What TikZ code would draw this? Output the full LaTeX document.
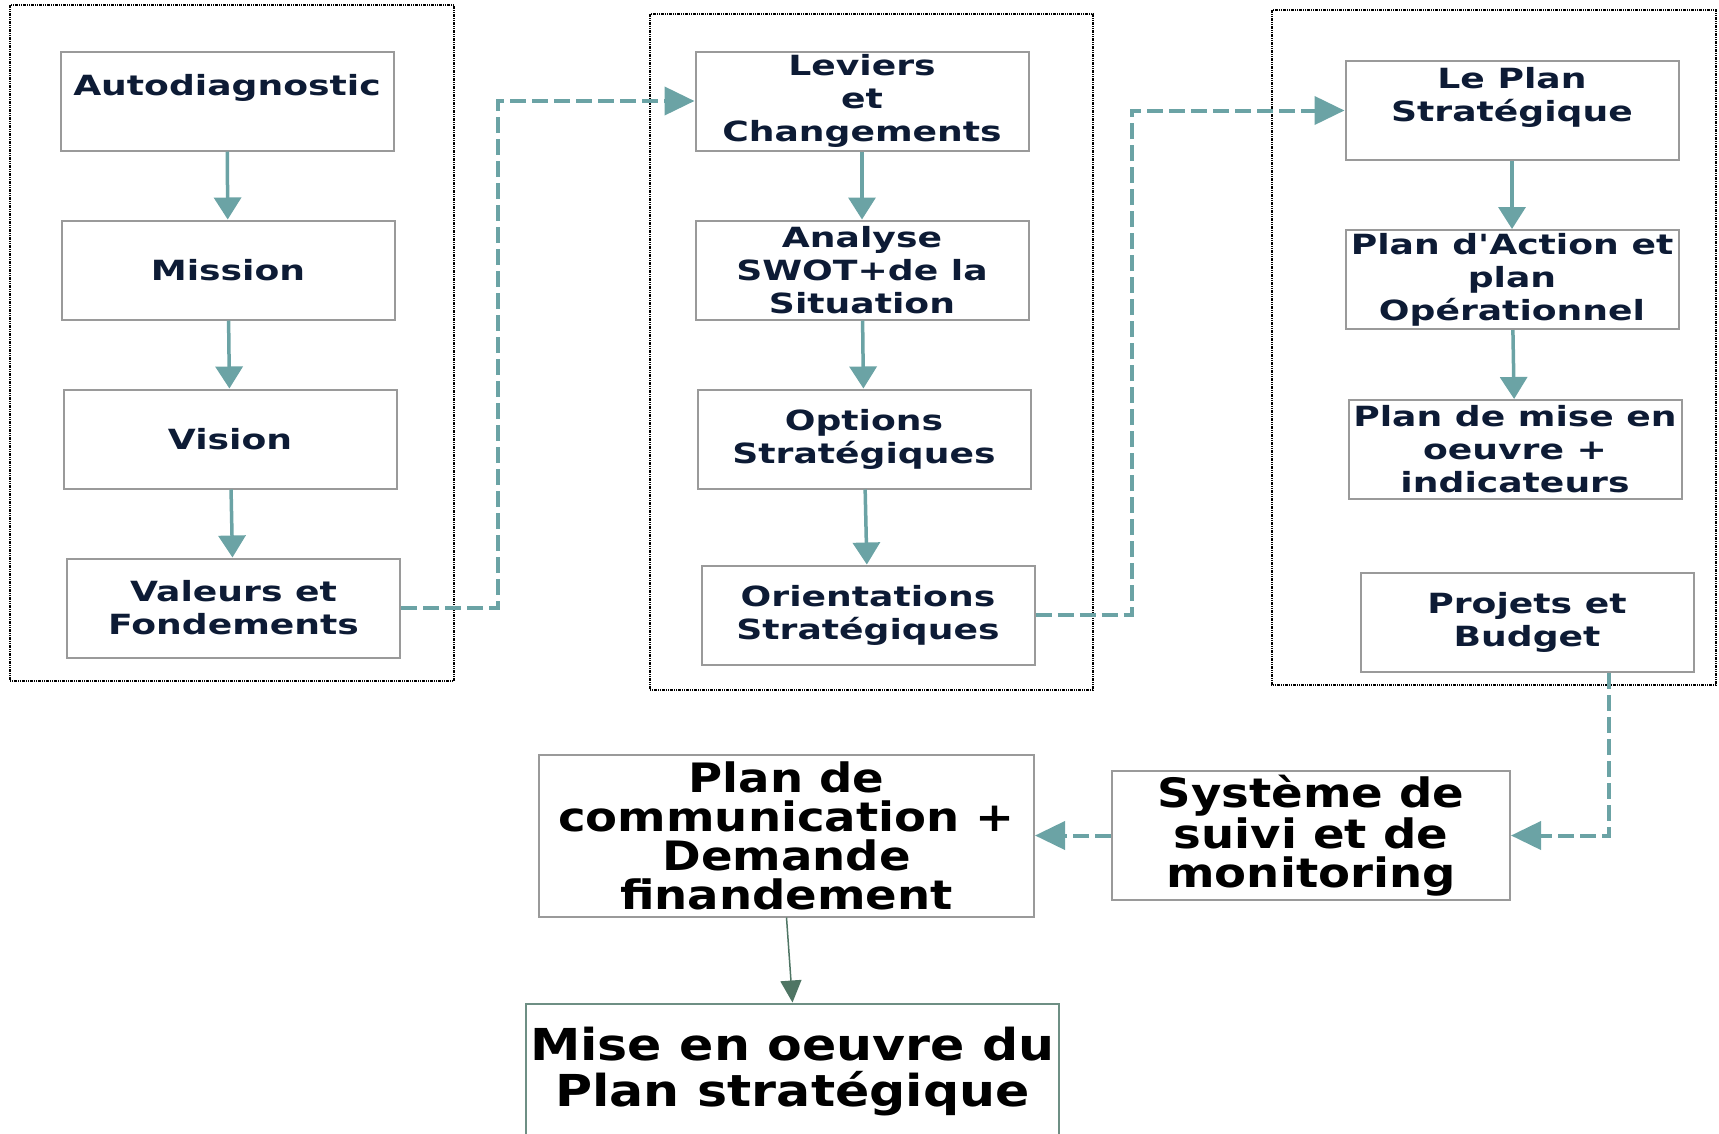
\documentclass[tikz,border=0pt]{standalone}
\usepackage{fontspec}
\usepackage{xcolor}
\usepackage{tikz}
\usetikzlibrary{arrows.meta, positioning}
\newfontfamily\colfont{DejaVu Sans Bold}[FakeStretch=1.3]
\newfontfamily\bigfont{DejaVu Sans Bold}[FakeStretch=1.15]
\definecolor{navy}{HTML}{0D1B35}
\definecolor{tealline}{HTML}{6BA3A5}
\definecolor{boxgray}{HTML}{9A9A9A}
\definecolor{darkgreen}{HTML}{4F7564}
\definecolor{greenedge}{HTML}{6E8F84}

\begin{document}
\begin{tikzpicture}[
    x=1pt, y=-1pt,
    node distance=68pt and 76pt,
    box/.style={rectangle, draw=boxgray, line width=2pt, fill=white, text=navy, align=center, inner sep=0pt, minimum width=333pt, minimum height=99pt, font=\colfont\fontsize{27.8}{33}\selectfont},
    bigbox/.style={box, text=black, font=\bigfont\fontsize{40.5}{39}\selectfont},
    frame/.style={draw=black, line width=1.2pt, dash pattern=on 3pt off 1pt on 1pt off 1pt on 1pt off 1pt},
    flow/.style={-{Triangle[width=27pt,length=22pt]}, line width=3.5pt, draw=tealline},
    link/.style={flow, line width=4pt, dash pattern=on 16pt off 6pt, -{Triangle[width=28pt,length=30pt]}},
    final/.style={-{Triangle[width=21pt,length=22pt]}, line width=1.5pt, draw=darkgreen}
]
\useasboundingbox (0,0) rectangle (1719,1133);

% groupes
\draw[frame] (10,5) rectangle (454,681);
\draw[frame] (650,14) rectangle (1093,690);
\draw[frame] (1272,10) rectangle (1716,685);

% colonne 1
\node[box] (auto) at (227,101) {Autodiagnostic\\\mbox{}};
\node[box, below=of auto, xshift=1pt] (mission) {Mission};
\node[box, below=of mission, xshift=2pt] (vision) {Vision};
\node[box, below=of vision, xshift=3.5pt] (valeurs) {Valeurs et\\Fondements};

% colonne 2
\node[box] (leviers) at (862,101) {Leviers\\et\\Changements};
\node[box, below=of leviers] (swot) {Analyse\\SWOT+de la\\Situation};
\node[box, below=of swot, xshift=2pt] (options) {Options\\Stratégiques};
\node[box, below=75pt of options, xshift=4pt] (orient) {Orientations\\Stratégiques};

% colonne 3
\node[box] (leplan) at (1512,110.5) {Le Plan\\Stratégique\\\mbox{}};
\node[box, below=of leplan] (action) {Plan d'Action et\\plan\\Opérationnel};
\node[box, below=69pt of action, xshift=3pt] (miseplan) {Plan de mise en\\oeuvre +\\indicateurs};
\node[box, below=72pt of miseplan, xshift=12pt] (projets) {Projets et\\Budget};

% bas
\node[bigbox, minimum width=398pt, minimum height=129pt] (suivi) at (1311,835.5) {Système de\\suivi et de\\monitoring};
\node[bigbox, left=of suivi, minimum width=495pt, minimum height=162pt] (comm) {Plan de\\communication +\\Demande\\finandement};
\node[bigbox, below=85pt of comm, xshift=6pt, draw=greenedge, minimum width=533pt, minimum height=136pt, font=\bigfont\fontsize{44}{46}\selectfont] (mise) {Mise en oeuvre du\\Plan stratégique};

\coordinate (pjout) at ([xshift=82pt]projets.south);

\draw[flow] (auto) -- (mission);
\draw[flow] (mission) -- (vision);
\draw[flow] (vision) -- (valeurs);
\draw[flow] (leviers) -- (swot);
\draw[flow] (swot) -- (options);
\draw[flow] (options) -- (orient);
\draw[flow] (leplan) -- (action);
\draw[flow] (action) -- (miseplan);

\draw[link] (valeurs.east) -- ++(97,0) |- (leviers.west);
\draw[link] (orient.east) -- ++(96,0) |- (leplan.west);
\draw[link] (pjout) |- (suivi.east);
\draw[link] (suivi) -- (comm);
\draw[final] (comm.south) -- (mise.north);
\end{tikzpicture}
\end{document}
